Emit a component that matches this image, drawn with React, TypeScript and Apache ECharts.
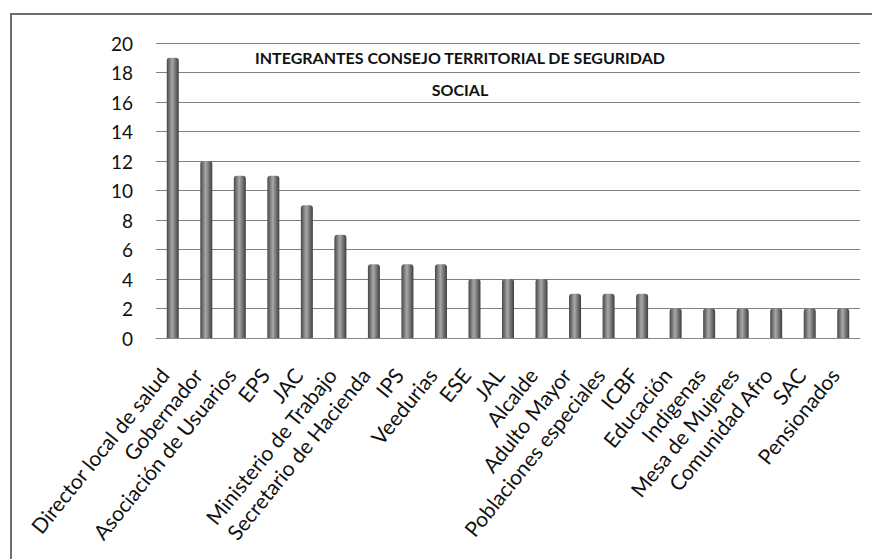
import React, { useEffect, useRef } from "react";
import * as echarts from "echarts";

const categories = [
  "Director local de salud",
  "Gobernador",
  "Asociación de Usuarios",
  "EPS",
  "JAC",
  "Ministerio de Trabajo",
  "Secretario de Hacienda",
  "IPS",
  "Veedurias",
  "ESE",
  "JAL",
  "Alcalde",
  "Adulto Mayor",
  "Poblaciones especiales",
  "ICBF",
  "Educación",
  "Indigenas",
  "Mesa de Mujeres",
  "Comunidad Afro",
  "SAC",
  "Pensionados",
];

const values = [19, 12, 11, 11, 9, 7, 5, 5, 5, 4, 4, 4, 3, 3, 3, 2, 2, 2, 2, 2, 2];

const titleLines = ["INTEGRANTES CONSEJO TERRITORIAL DE SEGURIDAD", "SOCIAL"];

const FONT = "Lato, 'Open Sans', sans-serif";

export default function App() {
  const ref = useRef<HTMLDivElement>(null);
  useEffect(() => {
    if (!ref.current) return;
    const chart = echarts.init(ref.current, null, { renderer: "svg" });
    chart.setOption({
      animation: false,
      backgroundColor: "#ffffff",
      title: {
        text: titleLines.join("\n"),
        left: 455,
        top: 36,
        textAlign: "center",
        textStyle: {
          fontFamily: FONT,
          fontWeight: "bold",
          fontSize: 16,
          color: "#111",
          lineHeight: 32,
        },
      },
      graphic: [
        {
          type: "rect",
          shape: { x: 11, y: 14, width: 870, height: 560 },
          style: { fill: "none", stroke: "#6e6e6e", lineWidth: 2 },
          silent: true,
        },
      ],
      grid: { left: 156, right: 12, top: 43, bottom: 221, containLabel: false },
      xAxis: {
        type: "category",
        data: categories,
        boundaryGap: true,
        axisLine: { show: true, lineStyle: { color: "#888", width: 1 } },
        axisTick: { show: false },
        axisLabel: {
          rotate: 51,
          interval: 0,
          margin: 22,
          padding: [0, 14, 0, 0],
          fontFamily: FONT,
          fontSize: 21,
          color: "#111",
        },
      },
      yAxis: {
        type: "value",
        min: 0,
        max: 20,
        interval: 2,
        axisLine: { show: false },
        axisTick: { show: false },
        axisLabel: {
          margin: 23,
          fontFamily: FONT,
          fontSize: 19,
          color: "#111",
        },
        splitLine: { lineStyle: { color: "#808080", width: 1 } },
      },
      series: [
        {
          type: "bar",
          data: values,
          barWidth: 12,
          itemStyle: {
            color: new echarts.graphic.LinearGradient(0, 0, 1, 0, [
              { offset: 0, color: "#474747" },
              { offset: 0.45, color: "#a8a8a8" },
              { offset: 1, color: "#3e3e3e" },
            ]),
            borderRadius: [3, 3, 0, 0],
          },
        },
      ],
    });
    return () => chart.dispose();
  }, []);
  return (
    <div
      ref={ref}
      style={{ position: "absolute", left: 0, top: 0, width: 872, height: 559 }}
    />
  );
}
